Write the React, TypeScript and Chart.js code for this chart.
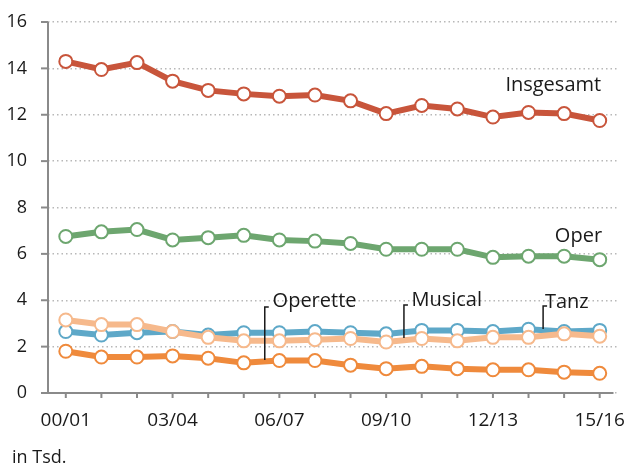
import React, { useEffect, useRef } from 'react';
import { Chart, registerables } from 'chart.js';

Chart.register(...registerables);

const seasons = ['00/01', '01/02', '02/03', '03/04', '04/05', '05/06', '06/07', '07/08', '08/09', '09/10', '10/11', '11/12', '12/13', '13/14', '14/15', '15/16'];
const insgesamt = [14.3, 13.95, 14.25, 13.45, 13.05, 12.9, 12.8, 12.85, 12.6, 12.05, 12.4, 12.25, 11.9, 12.1, 12.05, 11.75];
const oper = [6.75, 6.95, 7.05, 6.6, 6.7, 6.8, 6.6, 6.55, 6.45, 6.2, 6.2, 6.2, 5.85, 5.9, 5.9, 5.75];
const musical = [2.65, 2.5, 2.6, 2.65, 2.5, 2.6, 2.6, 2.65, 2.6, 2.55, 2.7, 2.7, 2.65, 2.75, 2.65, 2.7];
const tanz = [3.15, 2.95, 2.95, 2.65, 2.4, 2.25, 2.25, 2.3, 2.35, 2.2, 2.35, 2.25, 2.4, 2.4, 2.55, 2.45];
const operette = [1.8, 1.55, 1.55, 1.6, 1.5, 1.3, 1.4, 1.4, 1.2, 1.05, 1.15, 1.05, 1.0, 1.0, 0.9, 0.85];
const yMin = 0;
const yMax = 16;
const yStep = 2;
const unitLabel = 'in Tsd.';

// series labels: anchored in data coordinates (category index, value)
const seriesLabels = [
  { text: 'Insgesamt', x: 12.35, y: 13.28, leader: null },
  { text: 'Oper', x: 13.74, y: 6.77, leader: null },
  { text: 'Operette', x: 5.81, y: 3.97, leader: { x: 5.59, top: 3.71, bottom: 1.42 } },
  { text: 'Musical', x: 9.71, y: 4.0, leader: { x: 9.5, top: 3.79, bottom: 2.37 } },
  { text: 'Tanz', x: 13.46, y: 3.92, leader: { x: 13.41, top: 3.75, bottom: 2.76 } },
];

const FONT = '"Open Sans", "Noto Sans", sans-serif';
const AXIS_COLOR = '#8a8a8a';
const TEXT_COLOR = '#1a1a1a';

export default function App() {
  const ref = useRef<HTMLCanvasElement | null>(null);

  useEffect(() => {
    document.body.style.margin = '0';
    const canvas = ref.current;
    if (!canvas) return;

    const mk = (label: string, data: number[], color: string) => ({
      label,
      data,
      borderColor: color,
      backgroundColor: color,
      borderWidth: 6,
      pointRadius: 6.5,
      pointHoverRadius: 6.5,
      pointBorderWidth: 2,
      pointBorderColor: color,
      pointBackgroundColor: '#ffffff',
      tension: 0,
      fill: false,
    });

    const axesPlugin = {
      id: 'customAxes',
      beforeDatasetsDraw(chart: any) {
        const { ctx, chartArea, scales } = chart;
        const xs = scales.x;
        const ys = scales.y;
        ctx.save();
        ctx.strokeStyle = AXIS_COLOR;
        ctx.lineWidth = 2;
        ctx.beginPath();
        ctx.moveTo(chartArea.left, ys.getPixelForValue(yMax));
        ctx.lineTo(chartArea.left, ys.getPixelForValue(yMin));
        ctx.stroke();
        for (let v = yMin; v <= yMax; v += yStep) {
          const y = ys.getPixelForValue(v);
          ctx.beginPath();
          ctx.moveTo(chartArea.left - 7, y);
          ctx.lineTo(chartArea.left, y);
          ctx.stroke();
        }
        const y0 = ys.getPixelForValue(yMin);
        ctx.beginPath();
        ctx.moveTo(chartArea.left - 7, y0);
        ctx.lineTo(chartArea.right - 4, y0);
        ctx.stroke();
        for (let i = 0; i < seasons.length; i++) {
          const x = xs.getPixelForValue(i);
          ctx.beginPath();
          ctx.moveTo(x, y0);
          ctx.lineTo(x, y0 + 5);
          ctx.stroke();
        }
        ctx.restore();
      },
      afterDraw(chart: any) {
        const { ctx, scales } = chart;
        const xs = scales.x;
        const ys = scales.y;
        ctx.save();
        ctx.fillStyle = TEXT_COLOR;
        ctx.strokeStyle = TEXT_COLOR;
        ctx.textBaseline = 'middle';
        ctx.textAlign = 'left';
        ctx.font = `20px ${FONT}`;
        for (const l of seriesLabels) {
          ctx.fillText(l.text, xs.getPixelForValue(l.x), ys.getPixelForValue(l.y));
          if (l.leader) {
            const lx = xs.getPixelForValue(l.leader.x);
            const top = ys.getPixelForValue(l.leader.top);
            const bottom = ys.getPixelForValue(l.leader.bottom);
            ctx.lineWidth = 1.5;
            ctx.beginPath();
            ctx.moveTo(lx + 4, top);
            ctx.lineTo(lx, top);
            ctx.lineTo(lx, bottom);
            ctx.stroke();
          }
        }
        ctx.font = `18px ${FONT}`;
        ctx.fillText(unitLabel, 12, 458);
        ctx.restore();
      },
    };

    const chart = new Chart(canvas, {
      type: 'line',
      data: {
        labels: seasons,
        datasets: [
          mk('Operette', operette, '#ef8a3c'),
          mk('Tanz', tanz, '#f6b98c'),
          mk('Musical', musical, '#5ea8c8'),
          mk('Oper', oper, '#6da66f'),
          mk('Insgesamt', insgesamt, '#c8553b'),
        ],
      },
      options: {
        responsive: false,
        animation: false,
        layout: { padding: { top: 22, right: 5, left: 0, bottom: 0 } },
        plugins: {
          legend: { display: false },
          tooltip: { enabled: false },
          title: { display: false },
        },
        scales: {
          x: {
            type: 'category',
            offset: true,
            grid: { display: false, drawTicks: false },
            border: { display: false },
            ticks: {
              autoSkip: false,
              maxRotation: 0,
              minRotation: 0,
              padding: 16,
              color: TEXT_COLOR,
              font: { family: FONT, size: 19 },
              callback: (_v: any, i: number) => (i % 3 === 0 ? seasons[i] : ''),
            },
            afterFit: (s: any) => {
              s.height = 74;
              s.paddingLeft = 0;
              s.paddingRight = 0;
            },
          },
          y: {
            min: yMin,
            max: yMax,
            ticks: {
              stepSize: yStep,
              padding: 21,
              color: TEXT_COLOR,
              font: { family: FONT, size: 18 },
            },
            grid: {
              color: '#b8b8b8',
              lineWidth: 1.5,
              drawTicks: false,
            },
            border: { display: false, dash: [1.5, 3] },
            afterFit: (s: any) => {
              s.width = 48;
              s.paddingTop = 0;
              s.paddingBottom = 0;
            },
          },
        },
      },
      plugins: [axesPlugin],
    });

    return () => chart.destroy();
  }, []);

  return (
    <div style={{ position: 'absolute', left: 0, top: 0, width: 626, height: 467 }}>
      <canvas ref={ref} width={626} height={467} style={{ display: 'block' }} />
    </div>
  );
}
